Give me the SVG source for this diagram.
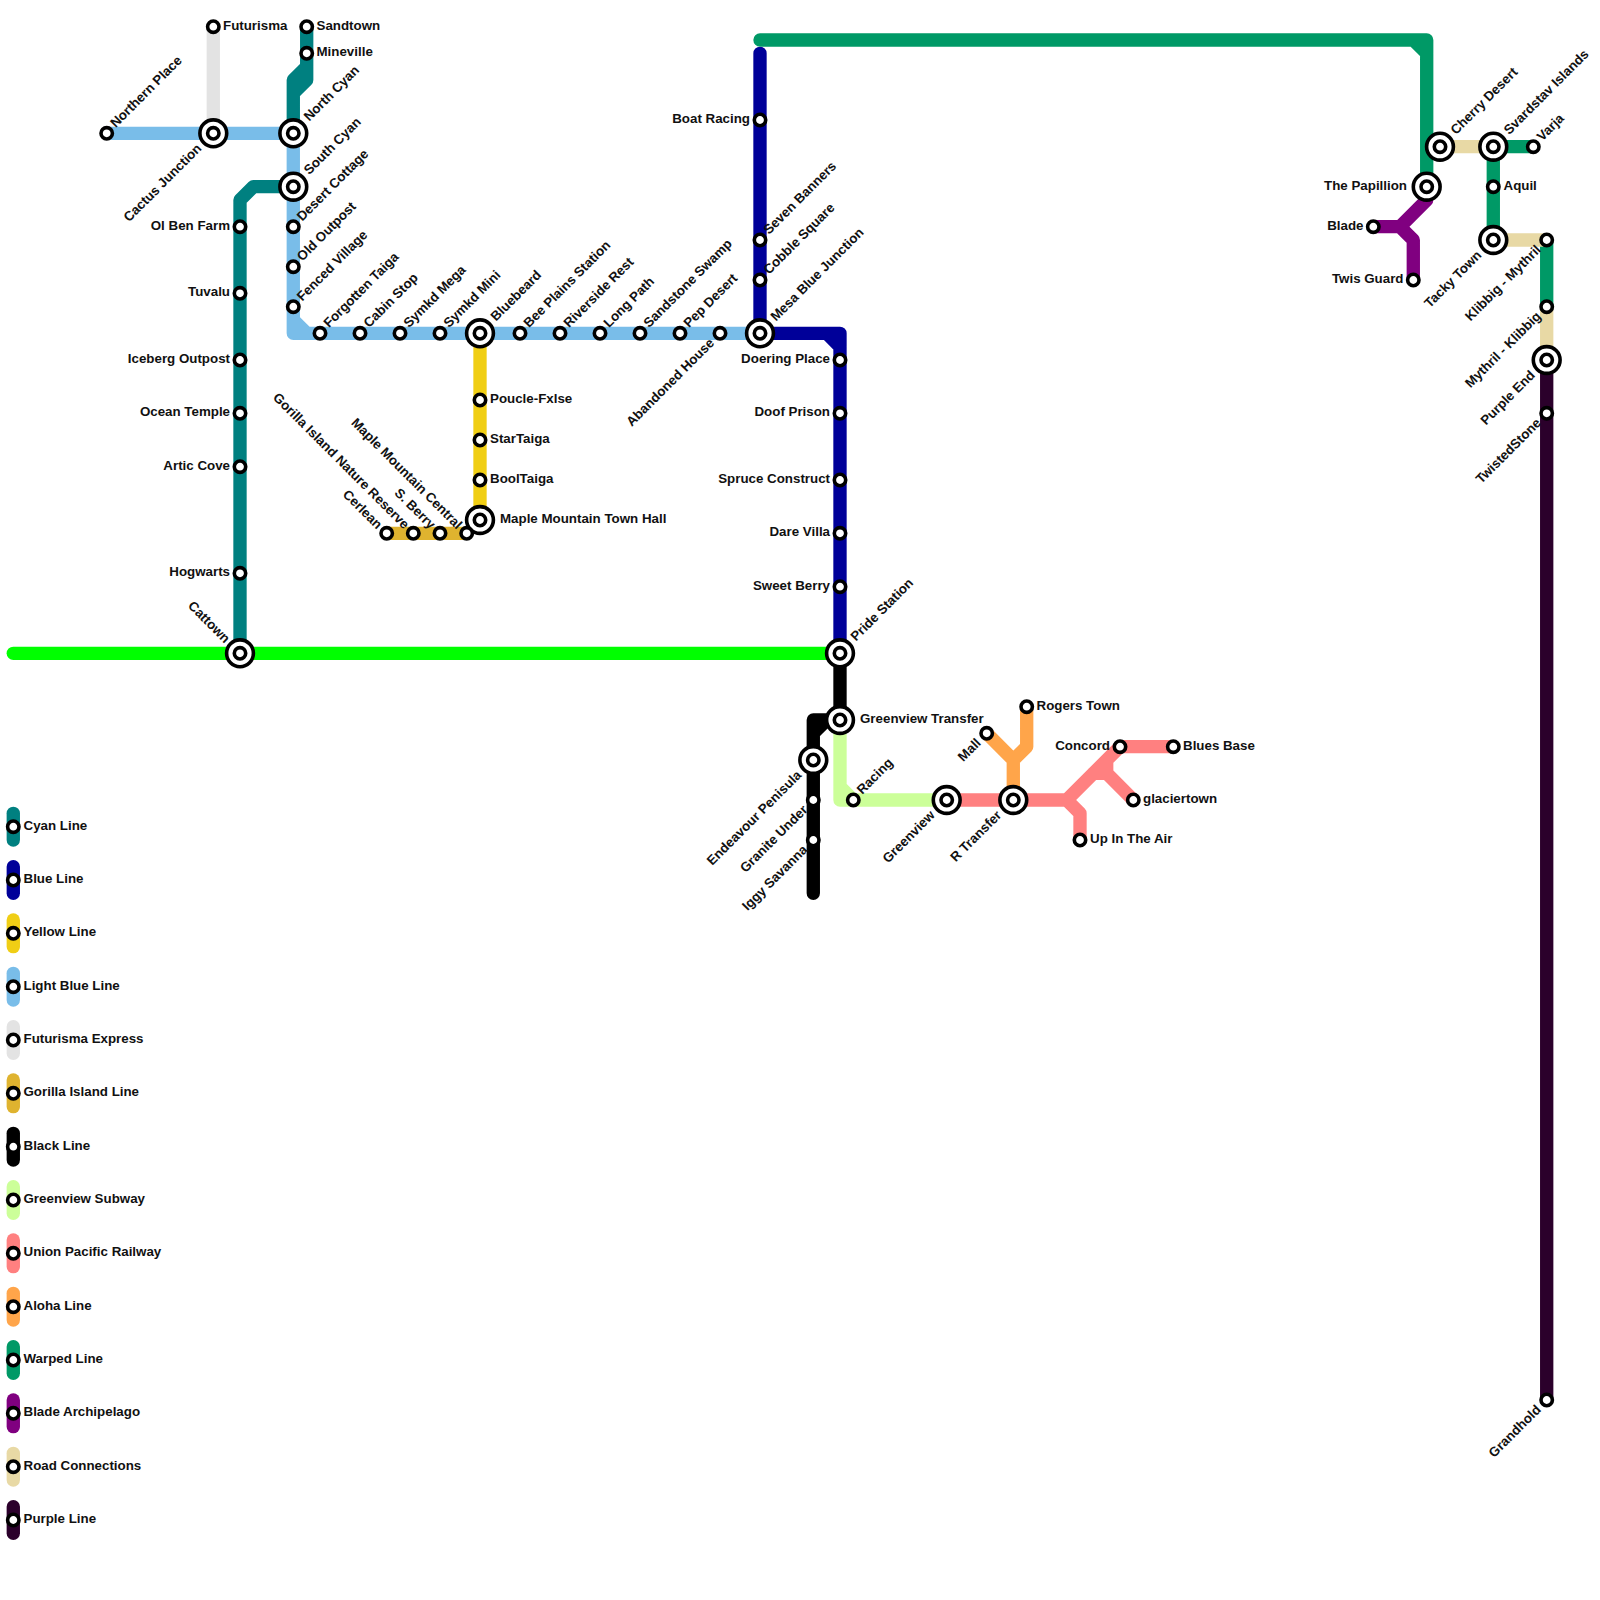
<svg xmlns="http://www.w3.org/2000/svg" width="1600" height="1600" viewBox="0 0 1600 1600">
<style>
.l{fill:none;stroke-width:13.33;stroke-linecap:round;stroke-linejoin:round}
.cy{stroke:#008080}.bl{stroke:#000099}.ye{stroke:#f0ce15}.lb{stroke:#79bde9}.fu{stroke:#e3e3e3}.go{stroke:#dfb32f}.bk{stroke:#000}.gv{stroke:#ccff99}.un{stroke:#ff8080}.al{stroke:#ffa54a}.wa{stroke:#009966}.bd{stroke:#800080}.ro{stroke:#e8d9a5}.pu{stroke:#2b002b}.gr{stroke:#00ff00}
.r{fill:#fff;stroke:#000;stroke-width:3.6}
text{font-family:"Liberation Sans",Arial,sans-serif;font-weight:bold;font-size:13.33px;fill:#111}
.e{text-anchor:end}
</style>
<defs>
<g id="s"><circle class="r" r="5.7"/></g>
<g id="b"><circle class="r" r="13.4"/><circle class="r" r="5.7"/></g>
</defs>
<rect width="1600" height="1600" fill="#fff"/>
<g id="connectors">
<path class="l cy" d="M306.7 26.7V80L293.3 93.3V133.3M306.7 66.7L293.3 80V100"/>
<path class="l cy" d="M293.3 186.7H253.3L240 200V653.3"/>
<path class="l fu" d="M213.3 26.7V133.3"/>
<path class="l lb" d="M106.7 133.3H293.3V333.3H760M293.3 320L306.7 333.3"/>
<path class="l ye" d="M480 333.3V520"/>
<path class="l go" d="M386.7 533.3H466.7"/>
<path class="l bl" d="M760 53.3V333.3H840V653.3M826.7 333.3L840 346.7"/>
<path class="l wa" d="M760 40H1426.7V186.7M1413.3 40L1426.7 53.3"/>
<path class="l gr" d="M13.3 653.3H840"/>
<path class="l bk" d="M840 653.3V720H813.3V893.3M826.7 720L813.3 733.3"/>
<path class="l gv" d="M840 720V800H946.7M840 786.7L853.3 800"/>
<path class="l un" d="M946.7 800H1066.7L1120 746.7H1173.3M1066.7 800L1080 813.3V840M1093.3 773.3H1106.7L1133.3 800M1106.7 773.3V760"/>
<path class="l al" d="M1026.7 706.7V746.7L1013.3 760V800M986.7 733.3L1013.3 760"/>
<path class="l wa" d="M1493.3 146.7H1533.3M1493.3 146.7V240M1546.7 240V306.7"/>
<path class="l ro" d="M1440 146.7H1493.3M1493.3 240H1546.7M1546.7 306.7V360"/>
<path class="l bd" d="M1426.7 200L1400 226.7H1373.3M1400 226.7L1413.3 240V280"/>
<path class="l pu" d="M1546.7 360V1400"/>
</g>
<g id="n1"><use href="#s" x="213.3" y="26.7"/><text x="223" y="29.7">Futurisma</text></g>
<g id="n2"><use href="#s" x="306.7" y="26.7"/><text x="316.5" y="29.7">Sandtown</text></g>
<g id="n3"><use href="#s" x="306.7" y="53.3"/><text x="316.5" y="56.3">Mineville</text></g>
<g id="n4"><use href="#s" x="106.7" y="133.3"/><text transform="translate(115.7 128.3) rotate(-45)">Northern Place</text></g>
<g id="n5"><use href="#b" x="213.3" y="133.3"/><text class="e" transform="translate(202.3 149.3) rotate(-45)">Cactus Junction</text></g>
<g id="n6"><use href="#b" x="293.3" y="133.3"/><text transform="translate(309.3 121.8) rotate(-45)">North Cyan</text></g>
<g id="n7"><use href="#b" x="293.3" y="186.7"/><text transform="translate(309.3 175.2) rotate(-45)">South Cyan</text></g>
<g id="n8"><use href="#s" x="293.3" y="226.7"/><text transform="translate(302.3 221.7) rotate(-45)">Desert Cottage</text></g>
<g id="n9"><use href="#s" x="293.3" y="266.7"/><text transform="translate(302.3 261.7) rotate(-45)">Old Outpost</text></g>
<g id="n10"><use href="#s" x="293.3" y="306.7"/><text transform="translate(302.3 301.7) rotate(-45)">Fenced Village</text></g>
<g id="n11"><use href="#s" x="320" y="333.3"/><text transform="translate(329 328.3) rotate(-45)">Forgotten Taiga</text></g>
<g id="n12"><use href="#s" x="360" y="333.3"/><text transform="translate(369 328.3) rotate(-45)">Cabin Stop</text></g>
<g id="n13"><use href="#s" x="400" y="333.3"/><text transform="translate(409 328.3) rotate(-45)">Symkd Mega</text></g>
<g id="n14"><use href="#s" x="440" y="333.3"/><text transform="translate(449 328.3) rotate(-45)">Symkd Mini</text></g>
<g id="n15"><use href="#b" x="480" y="333.3"/><text transform="translate(496 321.8) rotate(-45)">Bluebeard</text></g>
<g id="n16"><use href="#s" x="520" y="333.3"/><text transform="translate(529 328.3) rotate(-45)">Bee Plains Station</text></g>
<g id="n17"><use href="#s" x="560" y="333.3"/><text transform="translate(569 328.3) rotate(-45)">Riverside Rest</text></g>
<g id="n18"><use href="#s" x="600" y="333.3"/><text transform="translate(609 328.3) rotate(-45)">Long Path</text></g>
<g id="n19"><use href="#s" x="640" y="333.3"/><text transform="translate(649 328.3) rotate(-45)">Sandstone Swamp</text></g>
<g id="n20"><use href="#s" x="680" y="333.3"/><text transform="translate(689 328.3) rotate(-45)">Pep Desert</text></g>
<g id="n21"><use href="#s" x="720" y="333.3"/><text class="e" transform="translate(715 343.8) rotate(-45)">Abandoned House</text></g>
<g id="n22"><use href="#b" x="760" y="333.3"/><text transform="translate(776 321.8) rotate(-45)">Mesa Blue Junction</text></g>
<g id="n23"><use href="#s" x="240" y="226.7"/><text class="e" x="230" y="229.7">Ol Ben Farm</text></g>
<g id="n24"><use href="#s" x="240" y="293.3"/><text class="e" x="230" y="296.3">Tuvalu</text></g>
<g id="n25"><use href="#s" x="240" y="360"/><text class="e" x="230" y="363">Iceberg Outpost</text></g>
<g id="n26"><use href="#s" x="240" y="413.3"/><text class="e" x="230" y="416.3">Ocean Temple</text></g>
<g id="n27"><use href="#s" x="240" y="466.7"/><text class="e" x="230" y="469.7">Artic Cove</text></g>
<g id="n28"><use href="#s" x="240" y="573.3"/><text class="e" x="230" y="576.3">Hogwarts</text></g>
<g id="n29"><use href="#b" x="240" y="653.3"/><text class="e" transform="translate(224.5 643.8) rotate(45)">Cattown</text></g>
<g id="n30"><use href="#s" x="480" y="400"/><text x="490" y="403">Poucle-Fxlse</text></g>
<g id="n31"><use href="#s" x="480" y="440"/><text x="490" y="443">StarTaiga</text></g>
<g id="n32"><use href="#s" x="480" y="480"/><text x="490" y="483">BoolTaiga</text></g>
<g id="n33"><use href="#b" x="480" y="520"/><text x="500" y="523">Maple Mountain Town Hall</text></g>
<g id="n34"><use href="#s" x="386.7" y="533.3"/><text class="e" transform="translate(376.7 529.8) rotate(45)">Cerlean</text></g>
<g id="n35"><use href="#s" x="413.3" y="533.3"/><text class="e" transform="translate(403.8 529.8) rotate(45)">Gorilla Island Nature Reserve</text></g>
<g id="n36"><use href="#s" x="440" y="533.3"/><text class="e" transform="translate(430 529.8) rotate(45)">S. Berry</text></g>
<g id="n37"><use href="#s" x="466.7" y="533.3"/><text class="e" transform="translate(456.7 529.8) rotate(45)">Maple Mountain Central</text></g>
<g id="n38"><use href="#s" x="760" y="120"/><text class="e" x="750" y="123">Boat Racing</text></g>
<g id="n39"><use href="#s" x="760" y="240"/><text transform="translate(769 235) rotate(-45)">Seven Banners</text></g>
<g id="n40"><use href="#s" x="760" y="280"/><text transform="translate(769 275) rotate(-45)">Cobble Square</text></g>
<g id="n41"><use href="#s" x="840" y="360"/><text class="e" x="830" y="363">Doering Place</text></g>
<g id="n42"><use href="#s" x="840" y="413.3"/><text class="e" x="830" y="416.3">Doof Prison</text></g>
<g id="n43"><use href="#s" x="840" y="480"/><text class="e" x="830" y="483">Spruce Construct</text></g>
<g id="n44"><use href="#s" x="840" y="533.3"/><text class="e" x="830" y="536.3">Dare Villa</text></g>
<g id="n45"><use href="#s" x="840" y="586.7"/><text class="e" x="830" y="589.7">Sweet Berry</text></g>
<g id="n46"><use href="#b" x="840" y="653.3"/><text transform="translate(856 641.8) rotate(-45)">Pride Station</text></g>
<g id="n47"><use href="#b" x="840" y="720"/><text x="860" y="723">Greenview Transfer</text></g>
<g id="n48"><use href="#b" x="813.3" y="760"/><text class="e" transform="translate(802.3 776) rotate(-45)">Endeavour Penisula</text></g>
<g id="n49"><use href="#s" x="813.3" y="800"/><text class="e" transform="translate(808.3 810.5) rotate(-45)">Granite Under</text></g>
<g id="n50"><use href="#s" x="813.3" y="840"/><text class="e" transform="translate(808.3 850.5) rotate(-45)">Iggy Savanna</text></g>
<g id="n51"><use href="#s" x="853.3" y="800"/><text transform="translate(862.3 795) rotate(-45)">Racing</text></g>
<g id="n52"><use href="#b" x="946.7" y="800"/><text class="e" transform="translate(935.7 816) rotate(-45)">Greenview</text></g>
<g id="n53"><use href="#b" x="1013.3" y="800"/><text class="e" transform="translate(1002.3 816) rotate(-45)">R Transfer</text></g>
<g id="n54"><use href="#s" x="986.7" y="733.3"/><text class="e" transform="translate(981.7 743.8) rotate(-45)">Mall</text></g>
<g id="n55"><use href="#s" x="1026.7" y="706.7"/><text x="1036.5" y="709.7">Rogers Town</text></g>
<g id="n56"><use href="#s" x="1120" y="746.7"/><text class="e" x="1110" y="749.7">Concord</text></g>
<g id="n57"><use href="#s" x="1173.3" y="746.7"/><text x="1183" y="749.7">Blues Base</text></g>
<g id="n58"><use href="#s" x="1133.3" y="800"/><text x="1143" y="803">glaciertown</text></g>
<g id="n59"><use href="#s" x="1080" y="840"/><text x="1090" y="843">Up In The Air</text></g>
<g id="n60"><use href="#b" x="1426.7" y="186.7"/><text class="e" x="1407" y="189.7">The Papillion</text></g>
<g id="n61"><use href="#b" x="1440" y="146.7"/><text transform="translate(1456 135.2) rotate(-45)">Cherry Desert</text></g>
<g id="n62"><use href="#b" x="1493.3" y="146.7"/><text transform="translate(1509.3 135.2) rotate(-45)">Svardstav Islands</text></g>
<g id="n63"><use href="#s" x="1533.3" y="146.7"/><text transform="translate(1542.3 141.7) rotate(-45)">Varja</text></g>
<g id="n64"><use href="#s" x="1493.3" y="186.7"/><text x="1503.5" y="189.7">Aquil</text></g>
<g id="n65"><use href="#b" x="1493.3" y="240"/><text class="e" transform="translate(1482.3 256) rotate(-45)">Tacky Town</text></g>
<g id="n66"><use href="#s" x="1546.7" y="240"/><text class="e" transform="translate(1541.7 250.5) rotate(-45)">Klibbig - Mythril</text></g>
<g id="n67"><use href="#s" x="1546.7" y="306.7"/><text class="e" transform="translate(1541.7 317.2) rotate(-45)">Mythril - Klibbig</text></g>
<g id="n68"><use href="#b" x="1546.7" y="360"/><text class="e" transform="translate(1535.7 376) rotate(-45)">Purple End</text></g>
<g id="n69"><use href="#s" x="1546.7" y="413.3"/><text class="e" transform="translate(1541.7 423.8) rotate(-45)">TwistedStone</text></g>
<g id="n70"><use href="#s" x="1546.7" y="1400"/><text class="e" transform="translate(1541.7 1410.5) rotate(-45)">Grandhold</text></g>
<g id="n71"><use href="#s" x="1373.3" y="226.7"/><text class="e" x="1363.5" y="229.7">Blade</text></g>
<g id="n72"><use href="#s" x="1413.3" y="280"/><text class="e" x="1403.5" y="283">Twis Guard</text></g>
<g id="legend">
<path class="l cy" d="M13.3 813.3V840"/><use href="#s" x="13.3" y="826.7"/><text x="23.5" y="829.7">Cyan Line</text>
<path class="l bl" d="M13.3 866.7V893.3"/><use href="#s" x="13.3" y="880"/><text x="23.5" y="883">Blue Line</text>
<path class="l ye" d="M13.3 920V946.7"/><use href="#s" x="13.3" y="933.3"/><text x="23.5" y="936.3">Yellow Line</text>
<path class="l lb" d="M13.3 973.3V1000"/><use href="#s" x="13.3" y="986.7"/><text x="23.5" y="989.7">Light Blue Line</text>
<path class="l fu" d="M13.3 1026.7V1053.3"/><use href="#s" x="13.3" y="1040"/><text x="23.5" y="1043">Futurisma Express</text>
<path class="l go" d="M13.3 1080V1106.7"/><use href="#s" x="13.3" y="1093.3"/><text x="23.5" y="1096.3">Gorilla Island Line</text>
<path class="l bk" d="M13.3 1133.3V1160"/><use href="#s" x="13.3" y="1146.7"/><text x="23.5" y="1149.7">Black Line</text>
<path class="l gv" d="M13.3 1186.7V1213.3"/><use href="#s" x="13.3" y="1200"/><text x="23.5" y="1203">Greenview Subway</text>
<path class="l un" d="M13.3 1240V1266.7"/><use href="#s" x="13.3" y="1253.3"/><text x="23.5" y="1256.3">Union Pacific Railway</text>
<path class="l al" d="M13.3 1293.3V1320"/><use href="#s" x="13.3" y="1306.7"/><text x="23.5" y="1309.7">Aloha Line</text>
<path class="l wa" d="M13.3 1346.7V1373.3"/><use href="#s" x="13.3" y="1360"/><text x="23.5" y="1363">Warped Line</text>
<path class="l bd" d="M13.3 1400V1426.7"/><use href="#s" x="13.3" y="1413.3"/><text x="23.5" y="1416.3">Blade Archipelago</text>
<path class="l ro" d="M13.3 1453.3V1480"/><use href="#s" x="13.3" y="1466.7"/><text x="23.5" y="1469.7">Road Connections</text>
<path class="l pu" d="M13.3 1506.7V1533.3"/><use href="#s" x="13.3" y="1520"/><text x="23.5" y="1523">Purple Line</text>
</g>
</svg>
